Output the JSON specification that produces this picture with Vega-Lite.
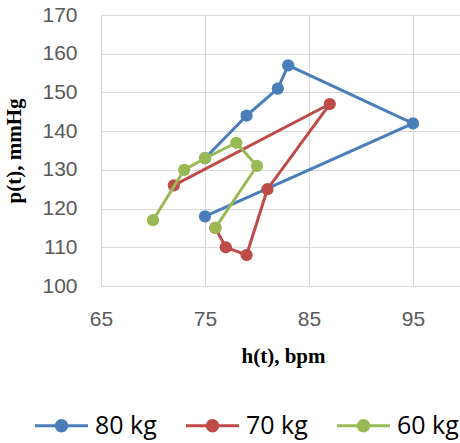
{
  "$schema": "https://vega.github.io/schema/vega-lite/v6.json",
  "autosize": {"type": "none"},
  "padding": {"left": 101, "top": 15, "right": 0, "bottom": 157},
  "width": 364,
  "height": 271,
  "background": "white",
  "data": {
    "values": [
      {"s": "80 kg", "i": 1, "h": 75, "p": 118},
      {"s": "80 kg", "i": 2, "h": 95, "p": 142},
      {"s": "80 kg", "i": 3, "h": 83, "p": 157},
      {"s": "80 kg", "i": 4, "h": 82, "p": 151},
      {"s": "80 kg", "i": 5, "h": 79, "p": 144},
      {"s": "80 kg", "i": 6, "h": 75, "p": 133},
      {"s": "70 kg", "i": 1, "h": 72, "p": 126},
      {"s": "70 kg", "i": 2, "h": 87, "p": 147},
      {"s": "70 kg", "i": 3, "h": 81, "p": 125},
      {"s": "70 kg", "i": 4, "h": 79, "p": 108},
      {"s": "70 kg", "i": 5, "h": 77, "p": 110},
      {"s": "70 kg", "i": 6, "h": 76, "p": 115},
      {"s": "60 kg", "i": 1, "h": 70, "p": 117},
      {"s": "60 kg", "i": 2, "h": 73, "p": 130},
      {"s": "60 kg", "i": 3, "h": 75, "p": 133},
      {"s": "60 kg", "i": 4, "h": 78, "p": 137},
      {"s": "60 kg", "i": 5, "h": 80, "p": 131},
      {"s": "60 kg", "i": 6, "h": 76, "p": 115}
    ]
  },
  "encoding": {
    "x": {
      "field": "h", "type": "quantitative",
      "scale": {"domain": [65, 100], "nice": false, "zero": false},
      "axis": {
        "values": [65, 75, 85, 95],
        "title": "h(t), bpm",
        "titleFont": "Liberation Serif", "titleFontWeight": "bold", "titleFontSize": 21, "titleColor": "#000000",
        "titlePadding": 16,
        "labelFont": "Liberation Sans", "labelFontSize": 21, "labelColor": "#595959", "labelPadding": 22,
        "labelFlush": false,
        "domain": false, "ticks": false,
        "gridColor": "#d9d9d9", "gridWidth": 1.2
      }
    },
    "y": {
      "field": "p", "type": "quantitative",
      "scale": {"domain": [100, 170], "nice": false, "zero": false},
      "axis": {
        "values": [100, 110, 120, 130, 140, 150, 160, 170],
        "title": "p(t), mmHg",
        "titleFont": "Liberation Serif", "titleFontWeight": "bold", "titleFontSize": 21, "titleColor": "#000000",
        "titlePadding": 17,
        "labelFont": "Liberation Sans", "labelFontSize": 21, "labelColor": "#595959", "labelPadding": 24,
        "domain": false, "ticks": false,
        "gridColor": "#d9d9d9", "gridWidth": 1.2
      }
    },
    "color": {
      "field": "s", "type": "nominal",
      "scale": {"domain": ["80 kg", "70 kg", "60 kg"], "range": ["#4a7ebb", "#be4b48", "#98b954"]},
      "legend": {
        "title": null,
        "orient": "none",
        "direction": "horizontal",
        "legendX": -52,
        "legendY": 398,
        "symbolType": "M-2.5,0H2.5M-0.5,0A0.5,0.5,0,1,1,0.5,0A0.5,0.5,0,1,1,-0.5,0Z",
        "symbolSize": 450,
        "symbolStrokeWidth": 3,
        "symbolOpacity": 1,
        "labelFont": "Open Sans", "labelFontSize": 25, "labelColor": "#000000",
        "labelOffset": 21,
        "columnPadding": 22,
        "encode": {
          "symbols": {"update": {
            "stroke": {"scale": "color", "field": "value"},
            "fill": {"scale": "color", "field": "value"},
            "strokeWidth": {"value": 3},
            "opacity": {"value": 1}
          }}
        }
      }
    },
    "order": {"field": "i", "type": "quantitative"}
  },
  "layer": [
    {"transform": [{"filter": "datum.s === '80 kg'"}], "mark": {"type": "line", "strokeWidth": 3}},
    {"transform": [{"filter": "datum.s === '80 kg'"}], "mark": {"type": "point", "filled": true, "opacity": 1, "size": 150}},
    {"transform": [{"filter": "datum.s === '70 kg'"}], "mark": {"type": "line", "strokeWidth": 3}},
    {"transform": [{"filter": "datum.s === '70 kg'"}], "mark": {"type": "point", "filled": true, "opacity": 1, "size": 150}},
    {"transform": [{"filter": "datum.s === '60 kg'"}], "mark": {"type": "line", "strokeWidth": 3}},
    {"transform": [{"filter": "datum.s === '60 kg'"}], "mark": {"type": "point", "filled": true, "opacity": 1, "size": 150}}
  ],
  "config": {"view": {"stroke": null}}
}
